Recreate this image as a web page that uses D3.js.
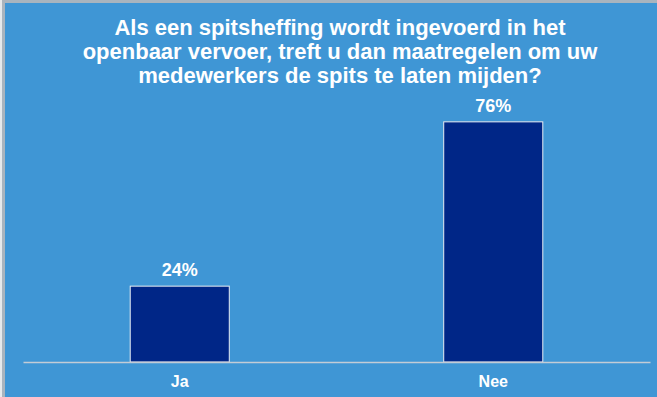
<!DOCTYPE html>
<html>
<head>
<meta charset="utf-8">
<script src="https://cdn.jsdelivr.net/npm/d3@7"></script>
<style>
  html, body { margin: 0; padding: 0; background: #3f96d5; }
  svg { display: block; }
</style>
</head>
<body>
<svg id="chart"></svg>
<script>
var categories = ["Ja", "Nee"]
var values = [24, 76]
var titleLines = [
    "Als een spitsheffing wordt ingevoerd in het",
    "openbaar vervoer, treft u dan maatregelen om uw",
    "medewerkers de spits te laten mijden?"
]

var dimensions = {
    width: 657,
    height: 397,
    margin: { top: 46, bottom: 35, left: 23, right: 7 }
}

var svg = d3.select("#chart")
    .attr("width", dimensions.width)
    .attr("height", dimensions.height)
    .style("font-family", "'Liberation Sans', Arial, sans-serif")

// background + grey frame on top/left
svg.append("rect")
    .attr("width", dimensions.width).attr("height", dimensions.height)
    .attr("fill", "#3f96d5")
svg.append("rect")
    .attr("x", 0).attr("y", 0).attr("width", dimensions.width).attr("height", 3)
    .attr("fill", "#a9b4be")
svg.append("rect")
    .attr("x", 0).attr("y", 0).attr("width", 2).attr("height", dimensions.height)
    .attr("fill", "#e6e9ec")
svg.append("rect")
    .attr("x", 2).attr("y", 0).attr("width", 3).attr("height", dimensions.height)
    .attr("fill", "#a9b4be")

var xScale = d3.scaleBand()
    .domain(categories)
    .range([dimensions.margin.left, dimensions.width - dimensions.margin.right])
    .paddingInner(0.684)
    .paddingOuter(0.342)

var yScale = d3.scaleLinear()
    .domain([0, 100])
    .range([dimensions.height - dimensions.margin.bottom, dimensions.margin.top])

var data = categories.map((c, i) => ({ name: c, value: values[i] }))

// title
svg.append("text")
    .attr("text-anchor", "middle")
    .attr("fill", "white")
    .attr("font-weight", "bold")
    .attr("font-size", 22)
    .selectAll("tspan")
    .data(titleLines)
    .join("tspan")
    .attr("x", 340)
    .attr("y", (d, i) => 35 + i * 24)
    .text(d => d)

svg.selectAll(".bar")
    .data(data)
    .join("rect")
    .attr("class", "bar")
    .attr("x", d => xScale(d.name))
    .attr("y", d => yScale(d.value))
    .attr("width", xScale.bandwidth())
    .attr("height", d => yScale(0) - yScale(d.value))
    .attr("fill", "#002687")
    .attr("stroke", "#e8ecf2")
    .attr("stroke-width", 1)

svg.selectAll(".val")
    .data(data)
    .join("text")
    .attr("class", "val")
    .attr("x", d => xScale(d.name) + xScale.bandwidth() / 2)
    .attr("y", d => yScale(d.value) - 10)
    .attr("text-anchor", "middle")
    .attr("fill", "white")
    .attr("font-weight", "bold")
    .attr("font-size", 18)
    .text(d => d.value + "%")

var xAxis = svg.append("g")
    .attr("transform", `translate(0,${yScale(0)})`)
    .call(d3.axisBottom(xScale).tickSize(0).tickPadding(14))
xAxis.select(".domain").attr("stroke", "#c3ccd6").attr("stroke-width", 1.5)
xAxis.selectAll("text")
    .attr("fill", "white")
    .attr("font-weight", "bold")
    .attr("font-size", 16)
    .style("font-family", "'Liberation Sans', Arial, sans-serif")
</script>
</body>
</html>
